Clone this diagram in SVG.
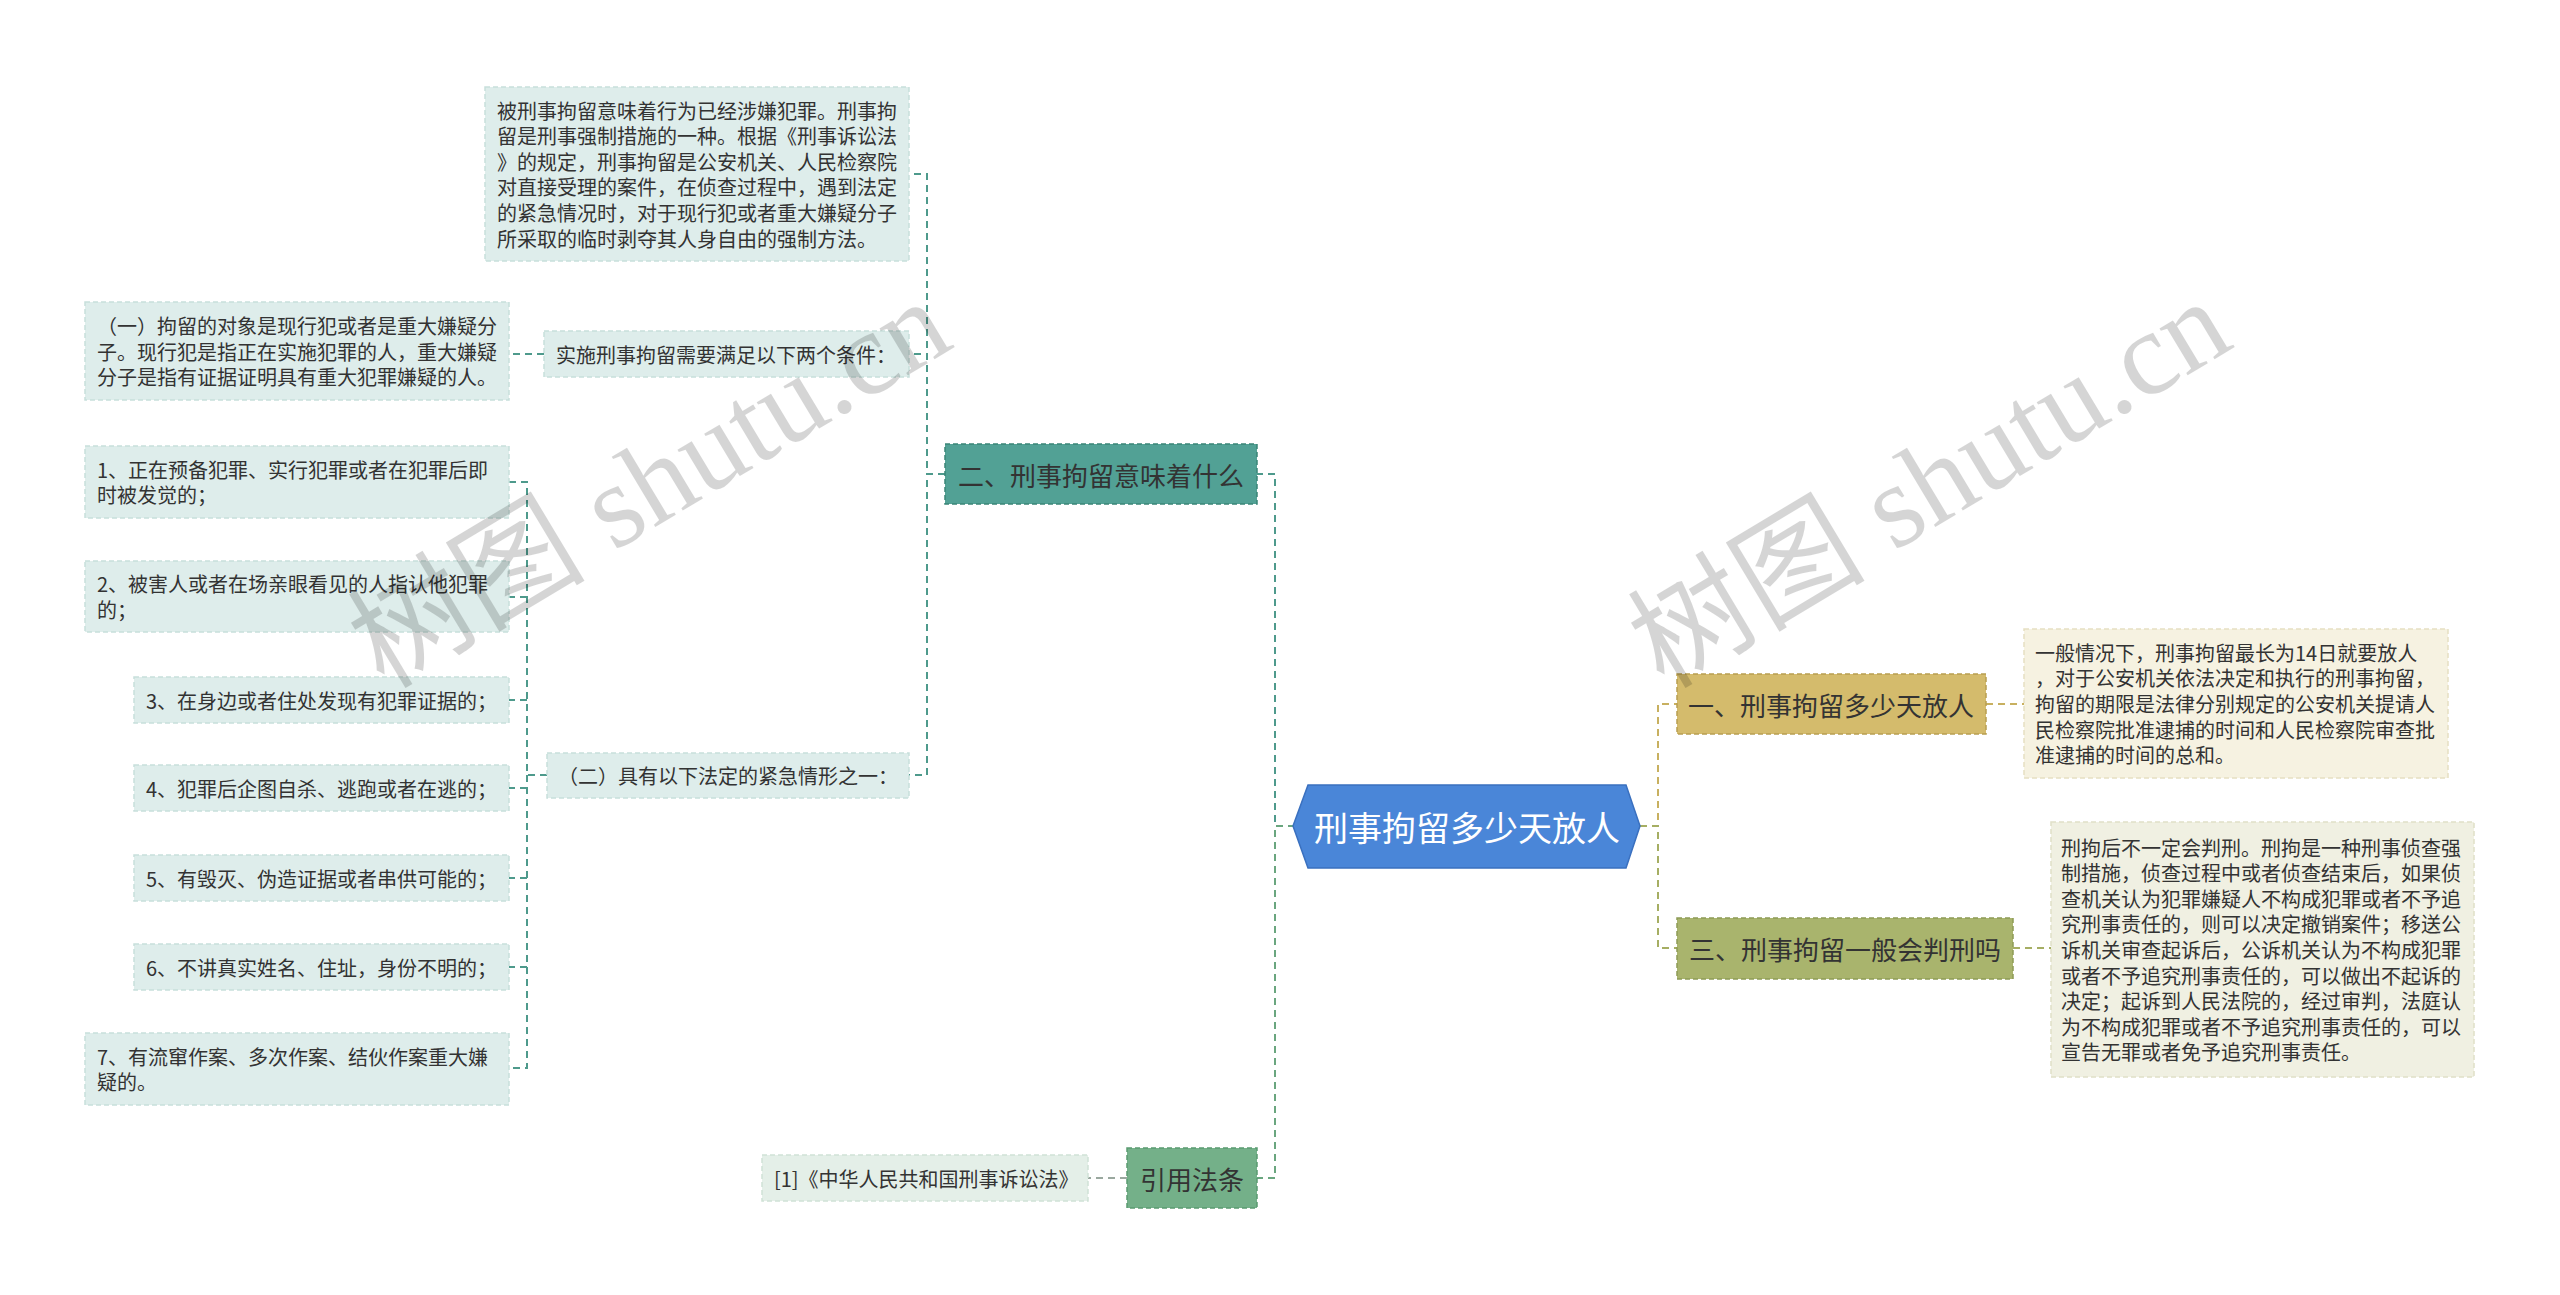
<svg xmlns="http://www.w3.org/2000/svg" width="2560" height="1295" viewBox="0 0 2560 1295">
<style>
text{font-family:"Noto Sans CJK SC","Noto Sans",sans-serif;dominant-baseline:central;}
.t20{font-size:20px;fill:#333;}
.t26{font-size:26px;fill:#333;text-anchor:middle;}
.lbox{fill:#deedeb;stroke:#c8dfdc;stroke-width:1.5;stroke-dasharray:5 3;}
.conn{fill:none;stroke-width:2;stroke-dasharray:7 5;}
.teal{stroke:#4e9a8c;}
.grn{stroke:#6aa67f;}
.gold{stroke:#c8b060;}
.olive{stroke:#a6ae63;}
.grey{stroke:#9aa89f;}
.wm{font-family:"Liberation Serif","Noto Sans CJK SC",serif;font-size:119px;fill:#000;opacity:0.16;dominant-baseline:alphabetic;}
</style>
<rect width="2560" height="1295" fill="#fff"/>
<g id="connectors">
<path class="conn teal" d="M1295 826 H1275 V474 H1257"/>
<path class="conn grn" d="M1295 826 H1275 V1178 H1257"/>
<path class="conn gold" d="M1640 826 H1658 V704 H1677"/>
<path class="conn olive" d="M1640 826 H1658 V948 H1677"/>
<path class="conn gold" d="M1986 704 H2024"/>
<path class="conn olive" d="M2013 948 H2051"/>
<path class="conn teal" d="M945 474 H927 V174 H909"/>
<path class="conn teal" d="M945 474 H927 V354 H909"/>
<path class="conn teal" d="M945 474 H927 V775 H909"/>
<path class="conn teal" d="M544 354 H509"/>
<path class="conn teal" d="M547 775 H527 V482 H509"/>
<path class="conn teal" d="M527 597 H509"/>
<path class="conn teal" d="M527 700 H509"/>
<path class="conn teal" d="M527 788 H509"/>
<path class="conn teal" d="M527 878 H509"/>
<path class="conn teal" d="M527 967 H509"/>
<path class="conn teal" d="M527 775 V1068 H509"/>
<path class="conn grey" d="M1127 1178 H1088"/>
</g>
<g id="root">
<polygon points="1293,826 1308,785 1626,785 1640,826 1626,868 1308,868" fill="#4a86d8" stroke="#3a70bf" stroke-width="1.5"/>
<text x="1467" y="826" style="font-size:34px;fill:#fff;text-anchor:middle">刑事拘留多少天放人</text>
</g>
<g id="n-two">
<rect x="945" y="444" width="312" height="60" fill="#52a195" stroke="#3a8577" stroke-width="1.5" stroke-dasharray="5 3"/>
<text class="t26" x="1101" y="474">二、刑事拘留意味着什么</text>
</g>
<g id="n-two-desc">
<rect class="lbox" x="485" y="87" width="424" height="174"/>
<text class="t20" x="497" y="110">被刑事拘留意味着行为已经涉嫌犯罪。刑事拘</text>
<text class="t20" x="497" y="135.6">留是刑事强制措施的一种。根据《刑事诉讼法</text>
<text class="t20" x="497" y="161.2">》的规定，刑事拘留是公安机关、人民检察院</text>
<text class="t20" x="497" y="186.8">对直接受理的案件，在侦查过程中，遇到法定</text>
<text class="t20" x="497" y="212.4">的紧急情况时，对于现行犯或者重大嫌疑分子</text>
<text class="t20" x="497" y="238">所采取的临时剥夺其人身自由的强制方法。</text>
</g>
<g id="n-cond">
<rect class="lbox" x="544" y="331" width="365" height="46"/>
<text class="t20" x="556" y="354">实施刑事拘留需要满足以下两个条件：</text>
</g>
<g id="n-cond1">
<rect class="lbox" x="85" y="302" width="424" height="98"/>
<text class="t20" x="97" y="325.4">（一）拘留的对象是现行犯或者是重大嫌疑分</text>
<text class="t20" x="97" y="351">子。现行犯是指正在实施犯罪的人，重大嫌疑</text>
<text class="t20" x="97" y="376.6">分子是指有证据证明具有重大犯罪嫌疑的人。</text>
</g>
<g id="n-cond2">
<rect class="lbox" x="547" y="753" width="362" height="45"/>
<text class="t20" x="558" y="775">（二）具有以下法定的紧急情形之一：</text>
</g>
<g id="n-i1">
<rect class="lbox" x="85" y="446" width="424" height="72"/>
<text class="t20" x="97" y="469.2">1、正在预备犯罪、实行犯罪或者在犯罪后即</text>
<text class="t20" x="97" y="494.8">时被发觉的；</text>
</g>
<g id="n-i2">
<rect class="lbox" x="85" y="561" width="424" height="71"/>
<text class="t20" x="97" y="583.7">2、被害人或者在场亲眼看见的人指认他犯罪</text>
<text class="t20" x="97" y="609.3">的；</text>
</g>
<g id="n-i3">
<rect class="lbox" x="134" y="677" width="375" height="46"/>
<text class="t20" x="146" y="700">3、在身边或者住处发现有犯罪证据的；</text>
</g>
<g id="n-i4">
<rect class="lbox" x="134" y="765" width="375" height="46"/>
<text class="t20" x="146" y="788">4、犯罪后企图自杀、逃跑或者在逃的；</text>
</g>
<g id="n-i5">
<rect class="lbox" x="134" y="855" width="375" height="46"/>
<text class="t20" x="146" y="878">5、有毁灭、伪造证据或者串供可能的；</text>
</g>
<g id="n-i6">
<rect class="lbox" x="134" y="944" width="375" height="46"/>
<text class="t20" x="146" y="967">6、不讲真实姓名、住址，身份不明的；</text>
</g>
<g id="n-i7">
<rect class="lbox" x="85" y="1033" width="424" height="72"/>
<text class="t20" x="97" y="1056.2">7、有流窜作案、多次作案、结伙作案重大嫌</text>
<text class="t20" x="97" y="1081.8">疑的。</text>
</g>
<g id="n-ref">
<rect x="1127" y="1148" width="130" height="60" fill="#74b089" stroke="#5a9a70" stroke-width="1.5" stroke-dasharray="5 3"/>
<text class="t26" x="1192" y="1178">引用法条</text>
</g>
<g id="n-ref1">
<rect x="762" y="1155" width="326" height="46" fill="#e4efe8" stroke="#d0e2d6" stroke-width="1.5" stroke-dasharray="5 3"/>
<text class="t20" x="774" y="1178">[1]《中华人民共和国刑事诉讼法》</text>
</g>
<g id="n-one">
<rect x="1677" y="674" width="309" height="60" fill="#d4bb6c" stroke="#b89f50" stroke-width="1.5" stroke-dasharray="5 3"/>
<text class="t26" x="1831" y="704">一、刑事拘留多少天放人</text>
</g>
<g id="n-one-desc">
<rect x="2024" y="629" width="424" height="149" fill="#f6f2e1" stroke="#e6dfc2" stroke-width="1.5" stroke-dasharray="5 3"/>
<text class="t20" x="2035" y="652.3">一般情况下，刑事拘留最长为14日就要放人</text>
<text class="t20" x="2035" y="677.9">，对于公安机关依法决定和执行的刑事拘留，</text>
<text class="t20" x="2035" y="703.5">拘留的期限是法律分别规定的公安机关提请人</text>
<text class="t20" x="2035" y="729.1">民检察院批准逮捕的时间和人民检察院审查批</text>
<text class="t20" x="2035" y="754.7">准逮捕的时间的总和。</text>
</g>
<g id="n-three">
<rect x="1677" y="918" width="336" height="61" fill="#a9b46d" stroke="#8d9a55" stroke-width="1.5" stroke-dasharray="5 3"/>
<text class="t26" x="1845" y="948.5">三、刑事拘留一般会判刑吗</text>
</g>
<g id="n-three-desc">
<rect x="2051" y="822" width="423" height="255" fill="#f0f0e2" stroke="#e0e0c8" stroke-width="1.5" stroke-dasharray="5 3"/>
<text class="t20" x="2061" y="847.1">刑拘后不一定会判刑。刑拘是一种刑事侦查强</text>
<text class="t20" x="2061" y="872.7">制措施，侦查过程中或者侦查结束后，如果侦</text>
<text class="t20" x="2061" y="898.3">查机关认为犯罪嫌疑人不构成犯罪或者不予追</text>
<text class="t20" x="2061" y="923.9">究刑事责任的，则可以决定撤销案件；移送公</text>
<text class="t20" x="2061" y="949.5">诉机关审查起诉后，公诉机关认为不构成犯罪</text>
<text class="t20" x="2061" y="975.1">或者不予追究刑事责任的，可以做出不起诉的</text>
<text class="t20" x="2061" y="1000.7">决定；起诉到人民法院的，经过审判，法庭认</text>
<text class="t20" x="2061" y="1026.3">为不构成犯罪或者不予追究刑事责任的，可以</text>
<text class="t20" x="2061" y="1051.9">宣告无罪或者免予追究刑事责任。</text>
</g>
<g id="watermarks">
<text class="wm" transform="translate(384 690) rotate(-31)">树图 shutu.cn</text>
<text class="wm" transform="translate(1664 690) rotate(-31)">树图 shutu.cn</text>
</g>
</svg>
